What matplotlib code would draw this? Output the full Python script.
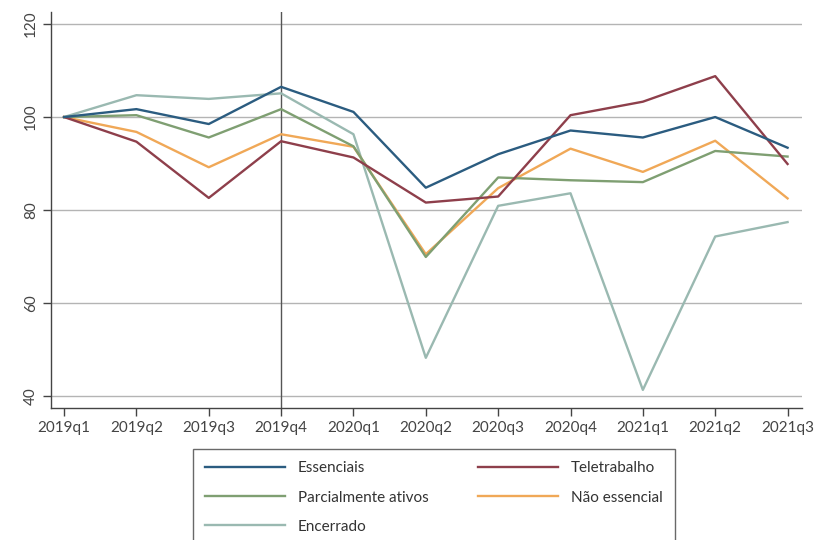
import matplotlib.pyplot as plt

plt.rcParams['font.family'] = ['Lato', 'DejaVu Sans']

quarters = ["2019q1", "2019q2", "2019q3", "2019q4", "2020q1", "2020q2",
            "2020q3", "2020q4", "2021q1", "2021q2", "2021q3"]

essenciais = [100, 101.7, 98.5, 106.5, 101.1, 84.8, 92.0, 97.1, 95.6, 100.0, 93.4]
teletrabalho = [100, 94.7, 82.6, 94.8, 91.3, 81.6, 82.9, 100.4, 103.3, 108.8, 89.9]
parcial = [100, 100.4, 95.6, 101.7, 93.7, 69.9, 87.0, 86.4, 86.0, 92.7, 91.5]
nao_essencial = [100, 96.8, 89.2, 96.3, 93.6, 70.5, 84.7, 93.2, 88.2, 94.9, 82.5]
encerrado = [100, 104.7, 103.9, 105.1, 96.3, 48.2, 80.9, 83.6, 41.3, 74.3, 77.4]

series = [
    ("Essenciais", essenciais, "#2b5c80"),
    ("Parcialmente ativos", parcial, "#7f9f72"),
    ("Encerrado", encerrado, "#9ab9b1"),
    ("Teletrabalho", teletrabalho, "#8e3f4b"),
    ("Não essencial", nao_essencial, "#f0a857"),
]

fig = plt.figure(figsize=(8.14, 5.4), dpi=100)
ax = fig.add_axes([0.0627, 0.2444, 0.9226, 0.7334])

x = list(range(len(quarters)))
# draw order so that teletrabalho sits on top like the original
for name, vals, col in [series[2], series[4], series[1], series[3], series[0]]:
    ax.plot(x, vals, color=col, lw=1.7, label=name, zorder=3)

ax.axvline(3, color="#555555", lw=1, zorder=2)

ax.set_xlim(-0.18, 10.2)
ax.set_ylim(37.4, 122.6)
ax.set_yticks([40, 60, 80, 100, 120])
ax.set_xticks(x)
ax.set_xticklabels(quarters, fontsize=11, color="#333333")
for lab in ax.get_yticklabels():
    lab.set_rotation(90)
    lab.set_va("center")
    lab.set_fontsize(11)
    lab.set_color("#333333")
ax.grid(axis="y", color="#b4b4b4", lw=1)
ax.set_axisbelow(True)
for s in ["top", "right"]:
    ax.spines[s].set_visible(False)
for s in ["left", "bottom"]:
    ax.spines[s].set_color("#444444")
    ax.spines[s].set_linewidth(1)
ax.tick_params(colors="#444444", length=6, width=1)

handles, labels = ax.get_legend_handles_labels()
order = [labels.index(n) for n, _, _ in series]
leg = fig.legend([handles[i] for i in order], [labels[i] for i in order],
                 loc="upper left", bbox_to_anchor=(0.237, 0.1685, 0.592, 0),
                 mode="expand", ncol=2, fontsize=11, frameon=True, fancybox=False,
                 edgecolor="#444444", handlelength=5.2, handletextpad=0.85,
                 labelspacing=1.0, borderaxespad=0, borderpad=0.8)
leg.get_frame().set_linewidth(1)
for t in leg.get_texts():
    t.set_color("#333333")

fig.savefig("out.png", dpi=100)
